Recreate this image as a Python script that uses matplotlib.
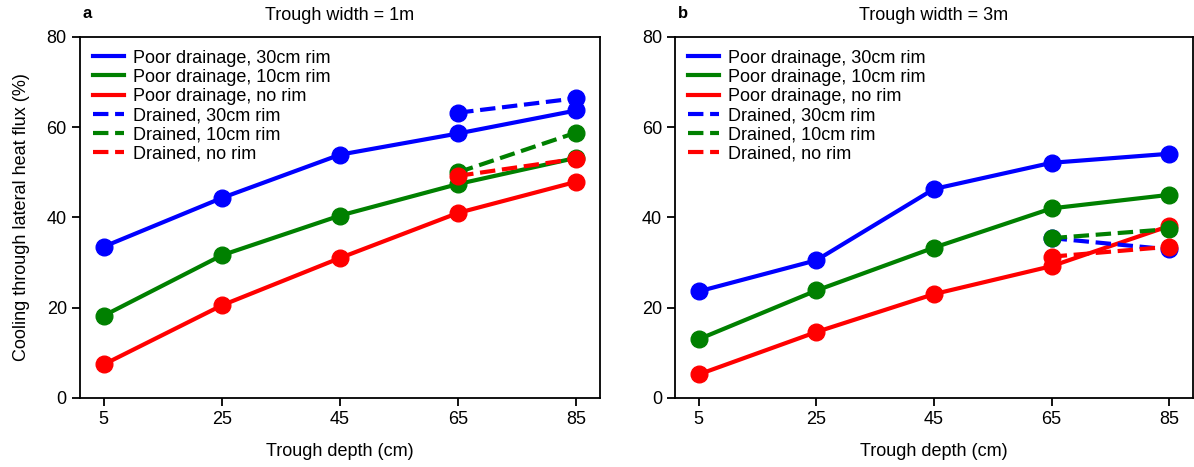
import matplotlib
matplotlib.use("Agg")
import matplotlib.pyplot as plt

plt.rcParams['font.family'] = ['Liberation Sans', 'DejaVu Sans']
plt.rcParams['font.size'] = 13

depths = [5, 25, 45, 65, 85]
drained_depths = [65, 85]

# panel a: trough width = 1m
a_poor_30 = [33.5, 44.3, 53.9, 58.6, 63.7]
a_poor_10 = [18.2, 31.6, 40.4, 47.4, 53.2]
a_poor_0 = [7.4, 20.5, 31.0, 41.0, 47.9]
a_drained_30 = [63.2, 66.4]
a_drained_10 = [50.0, 58.8]
a_drained_0 = [49.2, 53.0]

# panel b: trough width = 3m
b_poor_30 = [23.6, 30.5, 46.3, 52.1, 54.1]
b_poor_10 = [13.0, 23.8, 33.3, 42.0, 45.0]
b_poor_0 = [5.2, 14.6, 23.0, 29.2, 38.1]
b_drained_30 = [35.4, 32.9]
b_drained_10 = [35.4, 37.4]
b_drained_0 = [31.3, 33.5]

labels = ['Poor drainage, 30cm rim', 'Poor drainage, 10cm rim', 'Poor drainage, no rim',
          'Drained, 30cm rim', 'Drained, 10cm rim', 'Drained, no rim']
colors = ['blue', 'green', 'red']


def draw_panel(ax, poor, drained, letter, title):
    handles = []
    for vals, c, lab in zip(poor, colors, labels[:3]):
        ax.plot(depths, vals, '-o', color=c, lw=3, ms=12)
        h, = ax.plot([], [], '-', color=c, lw=3, label=lab)
        handles.append(h)
    for vals, c, lab in zip(drained, colors, labels[3:]):
        ax.plot(drained_depths, vals, '--o', color=c, lw=3, ms=12)
        h, = ax.plot([], [], '--', color=c, lw=3, label=lab)
        handles.append(h)
    ax.set_xticks(depths)
    ax.set_ylim(0, 80)
    ax.set_yticks([0, 20, 40, 60, 80])
    ax.set_xlim(1, 89)
    ax.set_xlabel('Trough depth (cm)', labelpad=11)
    ax.tick_params(direction='out', length=6, width=1.3, labelsize=13)
    for s in ax.spines.values():
        s.set_linewidth(1.3)
    ax.set_title(title, fontsize=13, pad=12)
    ax.text(0.005, 1.045, letter, transform=ax.transAxes, fontweight='bold',
            fontsize=12, ha='left', va='bottom')
    ax.legend(handles=handles, loc='upper left', frameon=False, fontsize=13,
              handlelength=1.75, handletextpad=0.5, labelspacing=0.12,
              borderaxespad=0.3)


fig = plt.figure(figsize=(11.94, 4.67), dpi=100)
ax1 = fig.add_axes([0.067, 0.148, 0.4355, 0.773])
ax2 = fig.add_axes([0.5655, 0.148, 0.4335, 0.773])

draw_panel(ax1, [a_poor_30, a_poor_10, a_poor_0],
           [a_drained_30, a_drained_10, a_drained_0], 'a', 'Trough width = 1m')
draw_panel(ax2, [b_poor_30, b_poor_10, b_poor_0],
           [b_drained_30, b_drained_10, b_drained_0], 'b', 'Trough width = 3m')
ax1.set_ylabel('Cooling through lateral heat flux (%)', labelpad=12)

fig.savefig('out.png', dpi=100)
